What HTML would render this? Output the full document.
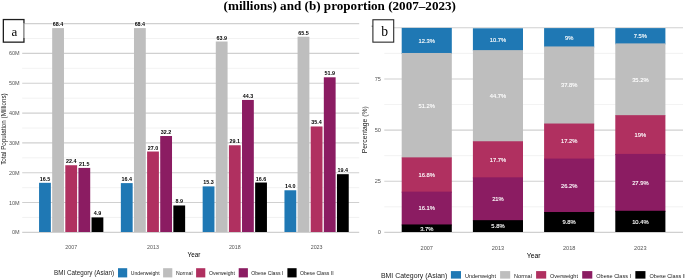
<!DOCTYPE html>
<html><head><meta charset="utf-8"><style>
html,body{margin:0;padding:0;background:#fff;}
body{width:685px;height:280px;overflow:hidden;}
svg{display:block;will-change:transform;}
.t{font-family:"Liberation Sans",sans-serif;}
.tb{font-family:"Liberation Sans",sans-serif;font-weight:bold;}
.s{font-family:"Liberation Serif",serif;}
.sb{font-family:"Liberation Serif",serif;font-weight:bold;}
</style></head><body>
<svg width="685" height="280" viewBox="0 0 685 280">
<rect x="0" y="0" width="685" height="280" fill="#fff"/>
<line x1="22.2" x2="359.3" y1="232.4" y2="232.4" stroke="#d0d0d0" stroke-width="1.1"/>
<line x1="22.2" x2="359.3" y1="217.49" y2="217.49" stroke="#efefef" stroke-width="0.8"/>
<line x1="22.2" x2="359.3" y1="202.57" y2="202.57" stroke="#d0d0d0" stroke-width="1.1"/>
<line x1="22.2" x2="359.3" y1="187.66" y2="187.66" stroke="#efefef" stroke-width="0.8"/>
<line x1="22.2" x2="359.3" y1="172.74" y2="172.74" stroke="#d0d0d0" stroke-width="1.1"/>
<line x1="22.2" x2="359.3" y1="157.82" y2="157.82" stroke="#efefef" stroke-width="0.8"/>
<line x1="22.2" x2="359.3" y1="142.91" y2="142.91" stroke="#d0d0d0" stroke-width="1.1"/>
<line x1="22.2" x2="359.3" y1="128" y2="128" stroke="#efefef" stroke-width="0.8"/>
<line x1="22.2" x2="359.3" y1="113.08" y2="113.08" stroke="#d0d0d0" stroke-width="1.1"/>
<line x1="22.2" x2="359.3" y1="98.16" y2="98.16" stroke="#efefef" stroke-width="0.8"/>
<line x1="22.2" x2="359.3" y1="83.25" y2="83.25" stroke="#d0d0d0" stroke-width="1.1"/>
<line x1="22.2" x2="359.3" y1="68.34" y2="68.34" stroke="#efefef" stroke-width="0.8"/>
<line x1="22.2" x2="359.3" y1="53.42" y2="53.42" stroke="#d0d0d0" stroke-width="1.1"/>
<line x1="22.2" x2="359.3" y1="38.5" y2="38.5" stroke="#efefef" stroke-width="0.8"/>
<line x1="22.2" x2="359.3" y1="23.59" y2="23.59" stroke="#d0d0d0" stroke-width="1.1"/>
<text x="19.7" y="234.35" text-anchor="end" class="t" font-size="5.5" fill="#555555">0M</text>
<text x="19.7" y="204.52" text-anchor="end" class="t" font-size="5.5" fill="#555555">10M</text>
<text x="19.7" y="174.69" text-anchor="end" class="t" font-size="5.5" fill="#555555">20M</text>
<text x="19.7" y="144.86" text-anchor="end" class="t" font-size="5.5" fill="#555555">30M</text>
<text x="19.7" y="115.03" text-anchor="end" class="t" font-size="5.5" fill="#555555">40M</text>
<text x="19.7" y="85.2" text-anchor="end" class="t" font-size="5.5" fill="#555555">50M</text>
<text x="19.7" y="55.37" text-anchor="end" class="t" font-size="5.5" fill="#555555">60M</text>
<rect x="39.06" y="182.81" width="11.8" height="49.19" fill="#1f78b4"/>
<text x="44.96" y="180.81" text-anchor="middle" class="tb" font-size="5.4" fill="#000" stroke="#fff" stroke-width="0.8" paint-order="stroke">16.5</text>
<rect x="52.18" y="28.1" width="11.8" height="203.9" fill="#bebebe"/>
<text x="58.08" y="26.1" text-anchor="middle" class="tb" font-size="5.4" fill="#000" stroke="#fff" stroke-width="0.8" paint-order="stroke">68.4</text>
<rect x="65.3" y="165.23" width="11.8" height="66.77" fill="#b03060"/>
<text x="71.2" y="163.23" text-anchor="middle" class="tb" font-size="5.4" fill="#000" stroke="#fff" stroke-width="0.8" paint-order="stroke">22.4</text>
<rect x="78.42" y="167.91" width="11.8" height="64.09" fill="#8b1c62"/>
<text x="84.32" y="165.91" text-anchor="middle" class="tb" font-size="5.4" fill="#000" stroke="#fff" stroke-width="0.8" paint-order="stroke">21.5</text>
<rect x="91.54" y="217.39" width="11.8" height="14.61" fill="#000000"/>
<text x="97.44" y="215.39" text-anchor="middle" class="tb" font-size="5.4" fill="#000" stroke="#fff" stroke-width="0.8" paint-order="stroke">4.9</text>
<text x="71.2" y="249.1" text-anchor="middle" class="t" font-size="5.3" fill="#555555">2007</text>
<rect x="120.86" y="183.11" width="11.8" height="48.89" fill="#1f78b4"/>
<text x="126.76" y="181.11" text-anchor="middle" class="tb" font-size="5.4" fill="#000" stroke="#fff" stroke-width="0.8" paint-order="stroke">16.4</text>
<rect x="133.98" y="28.1" width="11.8" height="203.9" fill="#bebebe"/>
<text x="139.88" y="26.1" text-anchor="middle" class="tb" font-size="5.4" fill="#000" stroke="#fff" stroke-width="0.8" paint-order="stroke">68.4</text>
<rect x="147.1" y="151.51" width="11.8" height="80.49" fill="#b03060"/>
<text x="153" y="149.51" text-anchor="middle" class="tb" font-size="5.4" fill="#000" stroke="#fff" stroke-width="0.8" paint-order="stroke">27.0</text>
<rect x="160.22" y="136.01" width="11.8" height="95.99" fill="#8b1c62"/>
<text x="166.12" y="134.01" text-anchor="middle" class="tb" font-size="5.4" fill="#000" stroke="#fff" stroke-width="0.8" paint-order="stroke">32.2</text>
<rect x="173.34" y="205.47" width="11.8" height="26.53" fill="#000000"/>
<text x="179.24" y="203.47" text-anchor="middle" class="tb" font-size="5.4" fill="#000" stroke="#fff" stroke-width="0.8" paint-order="stroke">8.9</text>
<text x="153" y="249.1" text-anchor="middle" class="t" font-size="5.3" fill="#555555">2013</text>
<rect x="202.66" y="186.39" width="11.8" height="45.61" fill="#1f78b4"/>
<text x="208.56" y="184.39" text-anchor="middle" class="tb" font-size="5.4" fill="#000" stroke="#fff" stroke-width="0.8" paint-order="stroke">15.3</text>
<rect x="215.78" y="41.51" width="11.8" height="190.49" fill="#bebebe"/>
<text x="221.68" y="39.51" text-anchor="middle" class="tb" font-size="5.4" fill="#000" stroke="#fff" stroke-width="0.8" paint-order="stroke">63.9</text>
<rect x="228.9" y="145.25" width="11.8" height="86.75" fill="#b03060"/>
<text x="234.8" y="143.25" text-anchor="middle" class="tb" font-size="5.4" fill="#000" stroke="#fff" stroke-width="0.8" paint-order="stroke">29.1</text>
<rect x="242.02" y="99.94" width="11.8" height="132.06" fill="#8b1c62"/>
<text x="247.92" y="97.94" text-anchor="middle" class="tb" font-size="5.4" fill="#000" stroke="#fff" stroke-width="0.8" paint-order="stroke">44.3</text>
<rect x="255.14" y="182.52" width="11.8" height="49.48" fill="#000000"/>
<text x="261.04" y="180.52" text-anchor="middle" class="tb" font-size="5.4" fill="#000" stroke="#fff" stroke-width="0.8" paint-order="stroke">16.6</text>
<text x="234.8" y="249.1" text-anchor="middle" class="t" font-size="5.3" fill="#555555">2018</text>
<rect x="284.46" y="190.27" width="11.8" height="41.73" fill="#1f78b4"/>
<text x="290.36" y="188.27" text-anchor="middle" class="tb" font-size="5.4" fill="#000" stroke="#fff" stroke-width="0.8" paint-order="stroke">14.0</text>
<rect x="297.58" y="36.74" width="11.8" height="195.26" fill="#bebebe"/>
<text x="303.48" y="34.74" text-anchor="middle" class="tb" font-size="5.4" fill="#000" stroke="#fff" stroke-width="0.8" paint-order="stroke">65.5</text>
<rect x="310.7" y="126.47" width="11.8" height="105.53" fill="#b03060"/>
<text x="316.6" y="124.47" text-anchor="middle" class="tb" font-size="5.4" fill="#000" stroke="#fff" stroke-width="0.8" paint-order="stroke">35.4</text>
<rect x="323.82" y="77.29" width="11.8" height="154.71" fill="#8b1c62"/>
<text x="329.72" y="75.29" text-anchor="middle" class="tb" font-size="5.4" fill="#000" stroke="#fff" stroke-width="0.8" paint-order="stroke">51.9</text>
<rect x="336.94" y="174.17" width="11.8" height="57.83" fill="#000000"/>
<text x="342.84" y="172.17" text-anchor="middle" class="tb" font-size="5.4" fill="#000" stroke="#fff" stroke-width="0.8" paint-order="stroke">19.4</text>
<text x="316.6" y="249.1" text-anchor="middle" class="t" font-size="5.3" fill="#555555">2023</text>
<text x="193.9" y="256.5" text-anchor="middle" class="t" font-size="6.3" fill="#000">Year</text>
<text transform="translate(6.3,129.1) rotate(-90)" text-anchor="middle" class="t" font-size="6.27" fill="#1a1a1a">Total Population (Millions)</text>
<text x="54.1" y="274.8" class="t" font-size="6.28" fill="#1a1a1a">BMI Category (Asian)</text>
<rect x="118" y="268.2" width="9.2" height="9.2" fill="#1f78b4"/>
<text x="130.8" y="274.8" class="t" font-size="5.15" fill="#1a1a1a">Underweight</text>
<rect x="163.1" y="268.2" width="9.2" height="9.2" fill="#bebebe"/>
<text x="176" y="274.8" class="t" font-size="5.15" fill="#1a1a1a">Normal</text>
<rect x="196.1" y="268.2" width="9.2" height="9.2" fill="#b03060"/>
<text x="208.9" y="274.8" class="t" font-size="5.15" fill="#1a1a1a">Overweight</text>
<rect x="238.7" y="268.2" width="9.2" height="9.2" fill="#8b1c62"/>
<text x="251.2" y="274.8" class="t" font-size="5.15" fill="#1a1a1a">Obese Class I</text>
<rect x="287.4" y="268.2" width="9.2" height="9.2" fill="#000000"/>
<text x="299.9" y="274.8" class="t" font-size="5.15" fill="#1a1a1a">Obese Class II</text>
<rect x="359.6" y="14" width="326" height="266" fill="#fff"/>
<line x1="384.3" x2="683" y1="232.4" y2="232.4" stroke="#d0d0d0" stroke-width="1.1"/>
<line x1="384.3" x2="683" y1="206.83" y2="206.83" stroke="#efefef" stroke-width="0.8"/>
<line x1="384.3" x2="683" y1="181.25" y2="181.25" stroke="#d0d0d0" stroke-width="1.1"/>
<line x1="384.3" x2="683" y1="155.68" y2="155.68" stroke="#efefef" stroke-width="0.8"/>
<line x1="384.3" x2="683" y1="130.1" y2="130.1" stroke="#d0d0d0" stroke-width="1.1"/>
<line x1="384.3" x2="683" y1="104.53" y2="104.53" stroke="#efefef" stroke-width="0.8"/>
<line x1="384.3" x2="683" y1="78.95" y2="78.95" stroke="#d0d0d0" stroke-width="1.1"/>
<line x1="384.3" x2="683" y1="53.38" y2="53.38" stroke="#efefef" stroke-width="0.8"/>
<line x1="384.3" x2="683" y1="27.8" y2="27.8" stroke="#d0d0d0" stroke-width="1.1"/>
<rect x="371.6" y="25.6" width="1.3" height="1.3" fill="#888"/>
<text x="380.9" y="234.4" text-anchor="end" class="t" font-size="5.6" fill="#555555">0</text>
<text x="380.9" y="183.25" text-anchor="end" class="t" font-size="5.6" fill="#555555">25</text>
<text x="380.9" y="132.1" text-anchor="end" class="t" font-size="5.6" fill="#555555">50</text>
<text x="380.9" y="80.95" text-anchor="end" class="t" font-size="5.6" fill="#555555">75</text>
<rect x="401.7" y="27.9" width="50.1" height="26.08" fill="#1f78b4"/>
<rect x="401.7" y="52.98" width="50.1" height="105.4" fill="#bebebe"/>
<rect x="401.7" y="157.37" width="50.1" height="35.26" fill="#b03060"/>
<rect x="401.7" y="191.63" width="50.1" height="33.83" fill="#8b1c62"/>
<rect x="401.7" y="224.46" width="50.1" height="7.54" fill="#000000"/>
<text x="426.75" y="230.63" text-anchor="middle" class="t" font-size="5.8" fill="#fff" stroke="#fff" stroke-width="0.12">3.7%</text>
<text x="426.75" y="210.44" text-anchor="middle" class="t" font-size="5.8" fill="#fff" stroke="#fff" stroke-width="0.12">16.1%</text>
<text x="426.75" y="176.9" text-anchor="middle" class="t" font-size="5.8" fill="#fff" stroke="#fff" stroke-width="0.12">16.8%</text>
<text x="426.75" y="107.57" text-anchor="middle" class="t" font-size="5.8" fill="#fff" stroke="#fff" stroke-width="0.12">51.2%</text>
<text x="426.75" y="42.84" text-anchor="middle" class="t" font-size="5.8" fill="#fff" stroke="#fff" stroke-width="0.12">12.3%</text>
<text x="426.75" y="249.9" text-anchor="middle" class="t" font-size="5.6" fill="#555555">2007</text>
<rect x="472.9" y="28.3" width="50.1" height="22.82" fill="#1f78b4"/>
<rect x="472.9" y="50.12" width="50.1" height="92.14" fill="#bebebe"/>
<rect x="472.9" y="141.26" width="50.1" height="37.09" fill="#b03060"/>
<rect x="472.9" y="177.35" width="50.1" height="43.82" fill="#8b1c62"/>
<rect x="472.9" y="220.17" width="50.1" height="11.83" fill="#000000"/>
<text x="497.95" y="228.49" text-anchor="middle" class="t" font-size="5.8" fill="#fff" stroke="#fff" stroke-width="0.12">5.8%</text>
<text x="497.95" y="201.16" text-anchor="middle" class="t" font-size="5.8" fill="#fff" stroke="#fff" stroke-width="0.12">21%</text>
<text x="497.95" y="161.71" text-anchor="middle" class="t" font-size="5.8" fill="#fff" stroke="#fff" stroke-width="0.12">17.7%</text>
<text x="497.95" y="98.09" text-anchor="middle" class="t" font-size="5.8" fill="#fff" stroke="#fff" stroke-width="0.12">44.7%</text>
<text x="497.95" y="41.61" text-anchor="middle" class="t" font-size="5.8" fill="#fff" stroke="#fff" stroke-width="0.12">10.7%</text>
<text x="497.95" y="249.9" text-anchor="middle" class="t" font-size="5.6" fill="#555555">2013</text>
<rect x="544.1" y="28.1" width="50.1" height="19.35" fill="#1f78b4"/>
<rect x="544.1" y="46.45" width="50.1" height="78.07" fill="#bebebe"/>
<rect x="544.1" y="123.53" width="50.1" height="36.07" fill="#b03060"/>
<rect x="544.1" y="158.6" width="50.1" height="54.42" fill="#8b1c62"/>
<rect x="544.1" y="212.02" width="50.1" height="19.98" fill="#000000"/>
<text x="569.15" y="224.41" text-anchor="middle" class="t" font-size="5.8" fill="#fff" stroke="#fff" stroke-width="0.12">9.8%</text>
<text x="569.15" y="187.71" text-anchor="middle" class="t" font-size="5.8" fill="#fff" stroke="#fff" stroke-width="0.12">26.2%</text>
<text x="569.15" y="143.46" text-anchor="middle" class="t" font-size="5.8" fill="#fff" stroke="#fff" stroke-width="0.12">17.2%</text>
<text x="569.15" y="87.39" text-anchor="middle" class="t" font-size="5.8" fill="#fff" stroke="#fff" stroke-width="0.12">37.8%</text>
<text x="569.15" y="39.68" text-anchor="middle" class="t" font-size="5.8" fill="#fff" stroke="#fff" stroke-width="0.12">9%</text>
<text x="569.15" y="249.9" text-anchor="middle" class="t" font-size="5.6" fill="#555555">2018</text>
<rect x="615.3" y="28.1" width="50.1" height="16.29" fill="#1f78b4"/>
<rect x="615.3" y="43.39" width="50.1" height="72.77" fill="#bebebe"/>
<rect x="615.3" y="115.17" width="50.1" height="39.74" fill="#b03060"/>
<rect x="615.3" y="153.91" width="50.1" height="57.89" fill="#8b1c62"/>
<rect x="615.3" y="210.79" width="50.1" height="21.21" fill="#000000"/>
<text x="640.35" y="223.8" text-anchor="middle" class="t" font-size="5.8" fill="#fff" stroke="#fff" stroke-width="0.12">10.4%</text>
<text x="640.35" y="184.75" text-anchor="middle" class="t" font-size="5.8" fill="#fff" stroke="#fff" stroke-width="0.12">27.9%</text>
<text x="640.35" y="136.94" text-anchor="middle" class="t" font-size="5.8" fill="#fff" stroke="#fff" stroke-width="0.12">19%</text>
<text x="640.35" y="81.68" text-anchor="middle" class="t" font-size="5.8" fill="#fff" stroke="#fff" stroke-width="0.12">35.2%</text>
<text x="640.35" y="38.15" text-anchor="middle" class="t" font-size="5.8" fill="#fff" stroke="#fff" stroke-width="0.12">7.5%</text>
<text x="640.35" y="249.9" text-anchor="middle" class="t" font-size="5.6" fill="#555555">2023</text>
<text x="533.7" y="257.6" text-anchor="middle" class="t" font-size="6.8" fill="#000">Year</text>
<text transform="translate(366.5,129.7) rotate(-90)" text-anchor="middle" class="t" font-size="6.76" fill="#1a1a1a">Percentage (%)</text>
<text x="380.9" y="278.3" class="t" font-size="6.95" fill="#1a1a1a">BMI Category (Asian)</text>
<rect x="450.9" y="271.1" width="10.1" height="7.5" fill="#1f78b4"/>
<text x="464.9" y="278.3" class="t" font-size="5.54" fill="#1a1a1a">Underweight</text>
<rect x="500.1" y="271.1" width="10.1" height="7.5" fill="#bebebe"/>
<text x="514.1" y="278.3" class="t" font-size="5.54" fill="#1a1a1a">Normal</text>
<rect x="536.1" y="271.1" width="10.1" height="7.5" fill="#b03060"/>
<text x="550" y="278.3" class="t" font-size="5.54" fill="#1a1a1a">Overweight</text>
<rect x="582.2" y="271.1" width="10.1" height="7.5" fill="#8b1c62"/>
<text x="596.3" y="278.3" class="t" font-size="5.54" fill="#1a1a1a">Obese Class I</text>
<rect x="635.35" y="271.1" width="10.1" height="7.5" fill="#000000"/>
<text x="649.5" y="278.3" class="t" font-size="5.54" fill="#1a1a1a">Obese Class II</text>
<rect x="3.35" y="19.55" width="20.6" height="22.6" fill="#fff" stroke="#1e1e1e" stroke-width="1.3"/>
<line x1="23.95" x2="23.95" y1="23.6" y2="37.9" stroke="#fff" stroke-width="1.5"/>
<line x1="23.8" x2="23.8" y1="23.6" y2="37.9" stroke="#808080" stroke-width="1.1"/>
<text x="14.3" y="35.9" text-anchor="middle" class="s" font-size="13">a</text>
<rect x="372.9" y="19.75" width="20.8" height="22.4" fill="#fff" stroke="#2a2a2a" stroke-width="1.1"/>
<text x="384.7" y="36.3" text-anchor="middle" class="s" font-size="13.6">b</text>
<text x="223.6" y="9.9" class="sb" font-size="13.14">(millions) and (b) proportion (2007–2023)</text>
</svg>
</body></html>
